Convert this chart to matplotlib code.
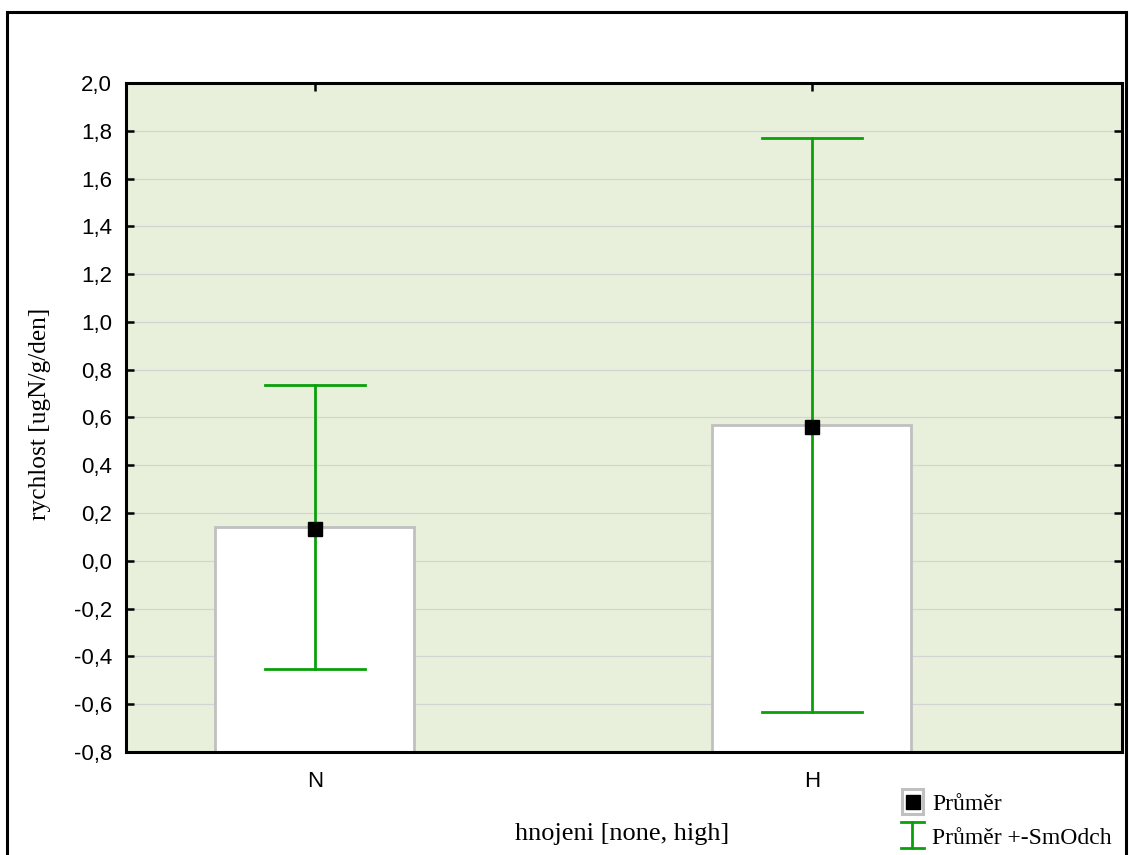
import matplotlib
matplotlib.use("Agg")
import matplotlib.pyplot as plt
from matplotlib.patches import Rectangle
from matplotlib.lines import Line2D

# Data
kategorie = ["N", "H"]
prumer = [0.135, 0.56]
sloupec = [0.14, 0.567]
horni = [0.735, 1.77]
dolni = [-0.452, -0.632]
y_ticky = [-0.8, -0.6, -0.4, -0.2, 0.0, 0.2, 0.4, 0.6, 0.8, 1.0, 1.2, 1.4, 1.6, 1.8, 2.0]

W, H = 1129, 855
fig = plt.figure(figsize=(W / 100, H / 100), dpi=100)
ax = fig.add_axes([126 / W, 1 - 752 / H, (1122 - 126) / W, (752 - 83) / H])

zelena = "#0aa00a"
ax.set_facecolor("#e8f0dc")
x = list(range(len(kategorie)))

for yy in y_ticky:
    ax.axhline(yy, color="#d4d4d4", lw=0.9, zorder=0)

# sloupce zacinaji na spodni hrane osy
ax.bar(x, [v + 0.8 for v in sloupec], width=0.40, bottom=-0.8, color="white",
       edgecolor="#c0c0c0", linewidth=2, zorder=2)

for xi, lo, hi in zip(x, dolni, horni):
    ax.plot([xi, xi], [lo, hi], color=zelena, lw=2, zorder=3)
    ax.plot([xi - 0.1, xi + 0.1], [lo, lo], color=zelena, lw=2, zorder=3)
    ax.plot([xi - 0.1, xi + 0.1], [hi, hi], color=zelena, lw=2, zorder=3)
ax.plot(x, prumer, ls="none", marker="s", ms=10, color="black", zorder=4)

ax.set_xlim(-0.38, 1.624)
ax.set_ylim(-0.8, 2.0)
ax.set_yticks(y_ticky)
ax.set_yticklabels([f"{v:.1f}".replace(".", ",") for v in y_ticky],
                   fontname="Liberation Sans", fontsize=16)
ax.set_xticks(x)
ax.set_xticklabels(kategorie, fontname="Liberation Sans", fontsize=16)
ax.tick_params(direction="in", length=6, width=1.8, color="black",
               top=True, right=True)
ax.tick_params(axis="y", pad=10)
ax.tick_params(axis="x", pad=14)
for s in ax.spines.values():
    s.set_linewidth(2.2)
    s.set_zorder(5)

fig.text(622 / W, 1 - 834 / H, "hnojeni [none, high]", fontname="Liberation Serif",
         fontsize=19, ha="center", va="center")
fig.text(40 / W, 1 - 414 / H, "rychlost [ugN/g/den]", fontname="Liberation Serif",
         fontsize=18.3, ha="center", va="center", rotation=90)

# vnejsi ramecek
fig.patches.append(Rectangle((7 / W, -0.05), (1126 - 7) / W, 1 - 12 / H + 0.05,
                             transform=fig.transFigure, fill=False,
                             edgecolor="black", lw=2.2))

# legenda
fig.patches.append(Rectangle((902 / W, 1 - 814 / H), 21 / W, 25 / H,
                             transform=fig.transFigure, facecolor="white",
                             edgecolor="#c0c0c0", lw=2.2))
fig.lines.append(Line2D([912.5 / W], [1 - 801.5 / H], transform=fig.transFigure,
                        marker="s", ms=10, color="black"))
fig.lines.append(Line2D([912 / W, 912 / W], [1 - 822 / H, 1 - 848 / H],
                        transform=fig.transFigure, color=zelena, lw=2))
fig.lines.append(Line2D([901 / W, 924 / W], [1 - 822 / H, 1 - 822 / H],
                        transform=fig.transFigure, color=zelena, lw=2))
fig.lines.append(Line2D([901 / W, 924 / W], [1 - 848 / H, 1 - 848 / H],
                        transform=fig.transFigure, color=zelena, lw=2))
fig.text(932 / W, 1 - 804 / H, "Průměr", fontname="Liberation Serif",
         fontsize=17, va="center")
fig.text(932 / W, 1 - 838 / H, "Průměr +-SmOdch", fontname="Liberation Serif",
         fontsize=17, va="center")

fig.savefig("out.png", dpi=100)
